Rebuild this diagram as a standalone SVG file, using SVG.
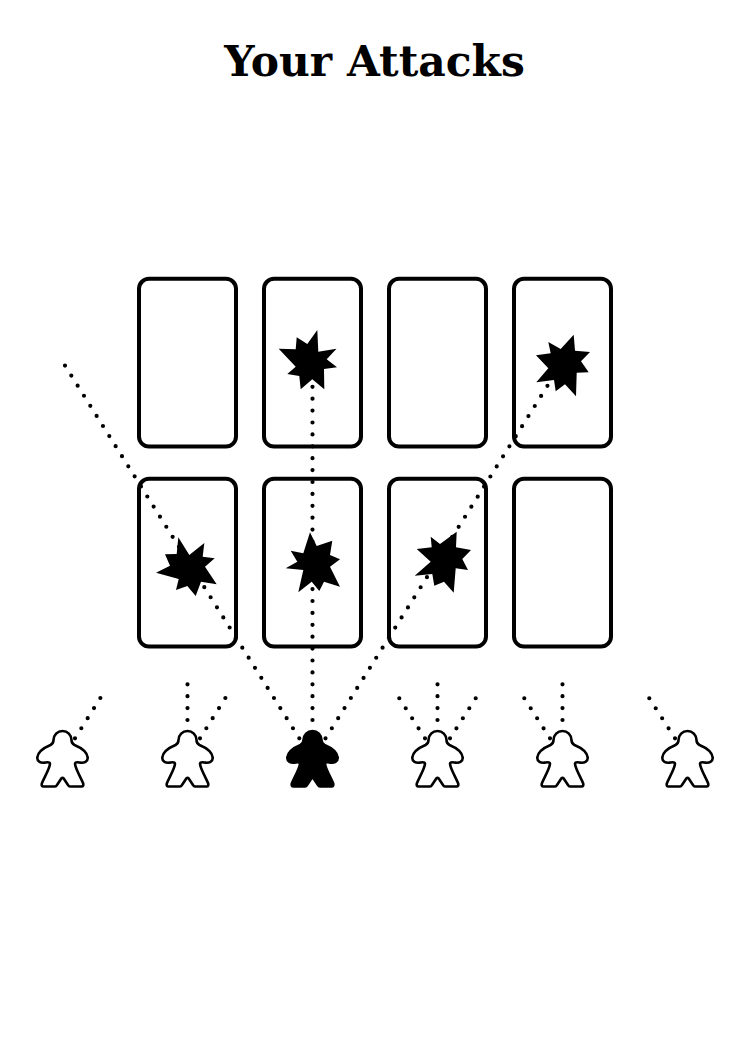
<svg xmlns="http://www.w3.org/2000/svg" width="750" height="1050" viewBox="0 0 750 1050">
<style>
.card{fill:#fff;stroke:#000;stroke-width:4}
.dot{fill:none;stroke:#000;stroke-width:4.200;stroke-linecap:round;stroke-dasharray:0 11.9}
.star{fill:#000}
.m{fill:#fff;stroke:#000;stroke-width:2.600;stroke-linejoin:round}
.m.on{fill:#000}
.title{font-family:"DejaVu Serif","Liberation Serif",serif;font-weight:bold;font-size:42.400px;text-anchor:middle}
</style>
<defs>
<path id="meeple" d="M-9 740A9 9 0 0 1 9 740C9 742.500 10 744 12 745C18 747.500 24.500 751 25.200 757.500C25.500 761.800 21.500 763 18 762.600C16 762.400 13 761.500 12.500 763.500C12.500 768 18 777 20.500 783C21.300 785.500 20.500 786.500 19 786.500L7.500 786.500C6.500 786.500 6 786 5.500 785L1.200 778.500Q0 777.300 -1.200 778.500L-5.500 785C-6 786 -6.500 786.500 -7.500 786.500L-19 786.500C-20.500 786.500 -21.300 785.500 -20.500 783C-18 777 -12.500 768 -12.500 763.500C-13 761.500 -16 762.400 -18 762.600C-21.500 763 -25.500 761.800 -25.200 757.500C-24.500 751 -18 747.500 -12 745C-10 744 -9 742.500 -9 740Z"/>
</defs>
<text id="title" class="title" x="374.500" y="76">Your Attacks</text>
<g id="cards">
<rect id="card-1" class="card" x="139" y="278.800" width="97" height="167.800" rx="10"/>
<rect id="card-2" class="card" x="264" y="278.800" width="97" height="167.800" rx="10"/>
<rect id="card-3" class="card" x="389" y="278.800" width="97" height="167.800" rx="10"/>
<rect id="card-4" class="card" x="514" y="278.800" width="97" height="167.800" rx="10"/>
<rect id="card-5" class="card" x="139" y="478.800" width="97" height="167.800" rx="10"/>
<rect id="card-6" class="card" x="264" y="478.800" width="97" height="167.800" rx="10"/>
<rect id="card-7" class="card" x="389" y="478.800" width="97" height="167.800" rx="10"/>
<rect id="card-8" class="card" x="514" y="478.800" width="97" height="167.800" rx="10"/>
</g>
<g id="connectors">
<line class="dot" x1="312.500" y1="720" x2="312.500" y2="380"/>
<line class="dot" x1="299.300" y1="738.300" x2="64" y2="364"/>
<line class="dot" x1="325.500" y1="738.300" x2="548" y2="385"/>
<line class="dot" x1="75" y1="738.300" x2="101" y2="697"/>
<line class="dot" x1="187.500" y1="720" x2="187.500" y2="683"/>
<line class="dot" x1="200" y1="738.300" x2="226" y2="697"/>
<line class="dot" x1="437.500" y1="720" x2="437.500" y2="683"/>
<line class="dot" x1="425" y1="738.300" x2="398.500" y2="697"/>
<line class="dot" x1="450" y1="738.300" x2="476.500" y2="697"/>
<line class="dot" x1="562.500" y1="720" x2="562.500" y2="683"/>
<line class="dot" x1="550" y1="738.300" x2="523.500" y2="697"/>
<line class="dot" x1="675" y1="738.300" x2="648.500" y2="697"/>
</g>
<g id="hit-1"><polygon class="star" points="317.300,330 318.300,351.700 336.500,348.700 326.700,359.300 337,367.300 324,369 324.300,389.300 312.300,379.300 300.700,389.300 299.300,376 287.300,374 295.700,366.700 278.700,348.700 295.700,349.300 296.700,337.300 307.300,344"/></g>
<g id="hit-2"><polygon class="star" points="573.700,334.700 575,350.700 590,352 581,361.300 588.700,372.300 576.700,372.700 576,396.300 565,384.300 555.700,391.300 554,380 536.300,382.300 548.300,368.300 536,355.300 550.700,353.300 548.300,342 560.700,349"/></g>
<g id="hit-3"><polygon class="star" points="178.300,537.300 189.300,555 204.300,543 202.700,556.700 214.700,558.300 205,566.700 216.700,584.300 201,581.700 195.700,596 187.300,586 176,590 178.700,579 156,572.700 170,565.700 165,554.300 176.700,554"/></g>
<g id="hit-4"><polygon class="star" points="310,532.300 316.700,546 332.300,540.700 330,555 340,559.300 330,566.700 340,586.700 324,581.700 319.300,591 311.700,581.700 298.300,592.300 303.300,570 285.700,568.300 297.300,561.700 290.700,550.700 303.300,553.300"/></g>
<g id="hit-5"><polygon class="star" points="456.700,531.700 456,547.300 471,550 462.300,559 468,570 455.700,568.300 453.700,592.700 444,581.700 434.300,585.700 432.300,574 414.700,575.700 430.700,561.700 416.700,549 431.700,547.300 430.700,536.700 440,544"/></g>
<g id="meeples">
<g id="meeple-1"><use href="#meeple" class="m" x="62.500"/></g>
<g id="meeple-2"><use href="#meeple" class="m" x="187.500"/></g>
<g id="meeple-3"><use href="#meeple" class="m on" x="312.500"/></g>
<g id="meeple-4"><use href="#meeple" class="m" x="437.500"/></g>
<g id="meeple-5"><use href="#meeple" class="m" x="562.500"/></g>
<g id="meeple-6"><use href="#meeple" class="m" x="687.500"/></g>
</g>
</svg>
